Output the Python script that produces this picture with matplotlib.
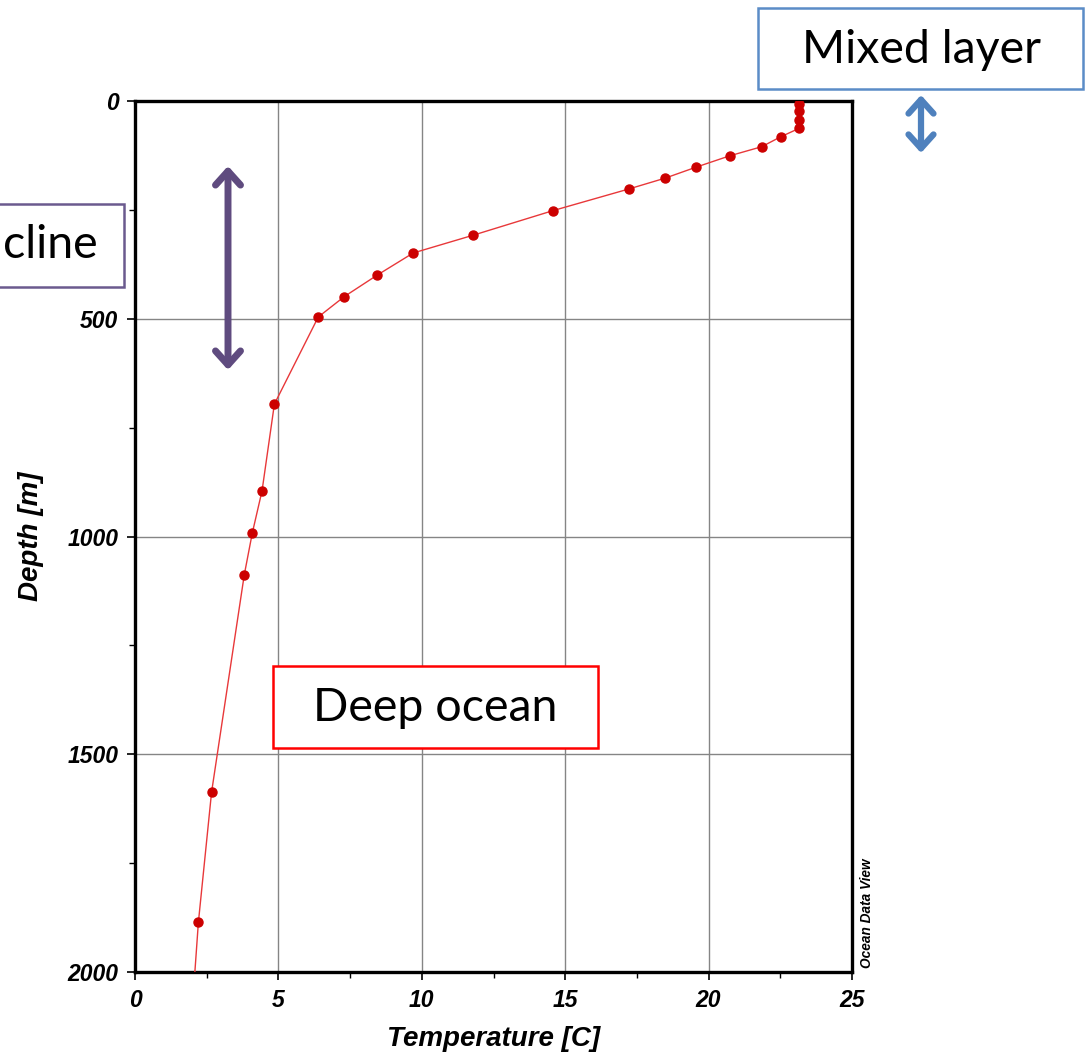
import matplotlib
matplotlib.use("Agg")
import matplotlib.pyplot as plt
from matplotlib.patches import Rectangle, FancyArrowPatch
from matplotlib.transforms import Affine2D
from matplotlib.ticker import MultipleLocator

temperature = [23.15, 23.15, 23.15, 23.15, 22.52, 21.85, 20.73, 19.56, 18.49, 17.22,
               14.56, 11.80, 9.70, 8.44, 7.30, 6.39, 4.86, 4.43, 4.09, 3.81,
               2.67, 2.21, 1.98]
depth = [8, 23, 43, 63, 82, 105, 126, 152, 177, 202,
         252, 308, 349, 400, 449, 496, 696, 895, 992, 1088,
         1587, 1886, 2100]
xticks = [0, 5, 10, 15, 20, 25]
yticks = [0, 500, 1000, 1500, 2000]

W, H = 1089, 1053
fig = plt.figure(figsize=(W / 100, H / 100), dpi=100)
px = Affine2D().scale(1 / W, -1 / H).translate(0, 1) + fig.transFigure

ax = fig.add_axes([135 / W, 1 - 972 / H, (852 - 135) / W, (972 - 101) / H])
ax.plot(temperature, depth, color="#E8383A", lw=1.0, zorder=3)
ax.plot(temperature, depth, "o", color="#CC0000", ms=6.5, mec="#CC0000", zorder=4)
ax.set_xlim(0, 25)
ax.set_ylim(2000, 0)
ax.set_xticks(xticks)
ax.set_yticks(yticks)
ax.xaxis.set_minor_locator(MultipleLocator(2.5))
ax.yaxis.set_minor_locator(MultipleLocator(250))
ax.grid(True, which="major", color="#858585", lw=1.0)
ax.set_axisbelow(True)
for s in ax.spines.values():
    s.set_linewidth(2.4)
    s.set_color("black")
ax.tick_params(which="major", direction="out", length=6, width=1.2, pad=6)
ax.tick_params(which="minor", direction="out", length=4, width=1.0)
tickfont = dict(family="Liberation Sans", weight="bold", style="italic", size=16.5)
ax.set_xticklabels([str(v) for v in xticks], fontdict=tickfont)
ax.set_yticklabels([str(v) for v in yticks], fontdict=tickfont)
labfont = dict(family="Liberation Sans", weight="bold", style="italic", size=20)
ax.set_xlabel("Temperature [C]", fontdict=labfont, labelpad=10)
ax.set_ylabel("Depth [m]", fontdict=labfont, labelpad=17)

# Ocean Data View tag
fig.text(867, 913, "Ocean Data View", transform=px, rotation=90, ha="center", va="center",
         family="Liberation Sans", weight="bold", style="italic", fontsize=9.8)

annfont = dict(family="Lato", fontsize=33.5)

# Mixed layer box
fig.patches.append(Rectangle((758, 89), 325, -81, transform=px, fill=True, fc="white",
                             ec="#5B8CC7", lw=1.8, zorder=5))
fig.text(921, 50, "Mixed layer", transform=px, ha="center", va="center", zorder=6, **annfont)
fig.patches.append(FancyArrowPatch((921, 95), (921, 153), transform=px,
                                   arrowstyle="<->,head_length=0.5,head_width=0.45",
                                   color="#4F81BD", lw=4.5, zorder=6, mutation_scale=20,
                                   shrinkA=0, shrinkB=0))

# Thermocline box (cut by the left edge in the reference)
fig.patches.append(Rectangle((-200, 287), 324, -83, transform=px, fill=True, fc="white",
                             ec="#6B5A8E", lw=1.8, zorder=5))
fig.text(3, 245, "cline", transform=px, ha="left", va="center", zorder=6, **annfont)
fig.patches.append(FancyArrowPatch((228, 166), (228, 370), transform=px,
                                   arrowstyle="<->,head_length=0.5,head_width=0.45",
                                   color="#5F4B7F", lw=5, zorder=6, mutation_scale=20,
                                   shrinkA=0, shrinkB=0))

# Deep ocean box
fig.patches.append(Rectangle((273, 748), 325, -82, transform=px, fill=True, fc="white",
                             ec="#FF0000", lw=1.8, zorder=5))
fig.text(435, 708, "Deep ocean", transform=px, ha="center", va="center", zorder=6, **annfont)

fig.savefig("out.png", dpi=100)
